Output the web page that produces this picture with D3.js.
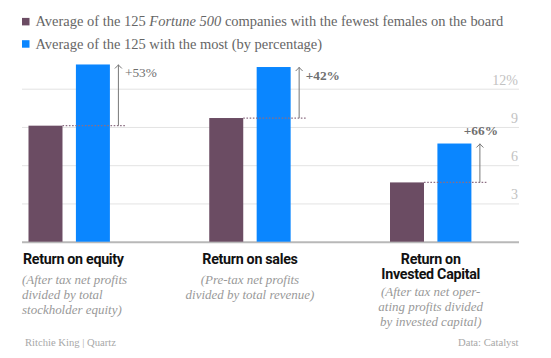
<!DOCTYPE html>
<html>
<head>
<meta charset="utf-8">
<script src="https://cdn.jsdelivr.net/npm/d3@7"></script>
<style>
  html, body { margin: 0; padding: 0; background: #fff; }
  svg { display: block; }
</style>
</head>
<body>
<svg id="chart" width="551" height="358"></svg>
<script>
// ---- data ----
const categories = ["Return on equity", "Return on sales", "Return on Invested Capital"];
const titleLines = [["Return on equity"], ["Return on sales"], ["Return on", "Invested Capital"]];
const noteLines = [
  ["(After tax net profits", "divided by total", "stockholder equity)"],
  ["(Pre-tax net profits", "divided by total revenue)"],
  ["(After tax net oper-", "ating profits divided", "by invested capital)"]
];
const fewestValues = [9.1, 9.7, 4.65];
const mostValues = [13.9, 13.7, 7.7];
const changeLabels = ["+53%", "+42%", "+66%"];
const yTicks = [3, 6, 9, 12];
const legendLabels = ["Average of the 125 |Fortune 500| companies with the fewest females on the board",
                      "Average of the 125 with the most (by percentage)"];
const seriesKeys = ["fewest", "most"];

// ---- layout ----
const colors = { fewest: "#6b4c63", most: "#0a86ff" };
const SERIF = "'Liberation Serif', serif";
const svg = d3.select("#chart");
const left = 22, right = 519;
const y = d3.scaleLinear().domain([0, 12]).range([241.7, 88.7]);
const xGroup = d3.scalePoint().domain(categories).range([69.2, 430.7]);
const xSeries = d3.scaleBand().domain(seriesKeys).range([-40.7, 40.7]).paddingInner(0.283);
const bw = xSeries.bandwidth();

function fit(sel, target, size) {
  const w = sel.node().getComputedTextLength();
  return w > 0 ? size * target / w : size;
}
function fitSize(attrs, str, target) {
  const t = svg.append("text").attr("font-size", 12);
  Object.entries(attrs).forEach(([k, v]) => t.attr(k, v));
  t.text(str);
  const s = fit(t, target, 12);
  t.remove();
  return s;
}

const pctSize = fitSize({ "font-family": SERIF }, "+53%", 32);

// gridlines + y axis
const yAxis = d3.axisRight(y).tickValues(yTicks).tickSize(-(right - left))
  .tickFormat(d => d === 12 ? d + "%" : d);
const ga = svg.append("g").attr("transform", `translate(${right},0)`).call(yAxis);
ga.select(".domain").remove();
ga.selectAll(".tick line").attr("stroke", "#e3e3e3").attr("stroke-width", 1);
ga.selectAll(".tick text")
  .attr("x", -1).attr("dy", "-4.5px").attr("text-anchor", "end")
  .attr("font-family", SERIF).attr("font-size", 14)
  .attr("fill", "#c2c2c2");

// baseline
svg.append("line").attr("x1", left).attr("x2", right)
  .attr("y1", y(0) + 0.5).attr("y2", y(0) + 0.5)
  .attr("stroke", "#b8b8b8").attr("stroke-width", 2);

// bars
const rows = categories.map((c, i) => ({ c, i, fewest: fewestValues[i], most: mostValues[i] }));
const groups = svg.append("g").selectAll("g").data(rows).join("g")
  .attr("transform", d => `translate(${xGroup(d.c)},0)`);
groups.selectAll("rect").data(d => seriesKeys.map(k => ({ k, v: d[k] }))).join("rect")
  .attr("x", d => xSeries(d.k)).attr("width", bw)
  .attr("y", d => y(d.v)).attr("height", d => y(0) - y(d.v))
  .attr("fill", d => colors[d.k]);

// dotted reference lines, arrows, labels
groups.each(function (d, i) {
  const g = d3.select(this);
  const blueRight = xSeries("most") + bw;
  const ax = blueRight + 8.5;
  g.append("line")
    .attr("x1", xSeries("fewest") + bw).attr("x2", blueRight + 16.5)
    .attr("y1", y(d.fewest)).attr("y2", y(d.fewest))
    .attr("stroke", "#8d6f84").attr("stroke-width", 1.3).attr("stroke-dasharray", "1.6,1.6");
  g.append("line")
    .attr("x1", ax).attr("x2", ax).attr("y1", y(d.fewest)).attr("y2", y(d.most))
    .attr("stroke", "#777").attr("stroke-width", 1);
  g.append("path")
    .attr("d", `M${ax - 3.5},${y(d.most) + 4}L${ax},${y(d.most) + 0.5}L${ax + 3.5},${y(d.most) + 4}`)
    .attr("fill", "none").attr("stroke", "#777").attr("stroke-width", 1);
  const last = i === rows.length - 1;
  g.append("text")
    .attr("x", last ? ax + 1 : ax + 6.5)
    .attr("y", last ? y(d.most) - 8.5 : y(d.most) + 12.5)
    .attr("text-anchor", last ? "middle" : "start")
    .attr("font-family", SERIF).attr("font-size", pctSize)
    .attr("font-weight", i === 0 ? "normal" : "bold")
    .attr("fill", "#6f6f6f")
    .text(changeLabels[i]);
});

// category titles and notes
const titleG = svg.append("g");
const titleSize = fitSize({ "font-family": "Roboto, sans-serif", "font-weight": "bold", "letter-spacing": "-0.3px" },
  titleLines[0][0], 100);
const noteSize = fitSize({ "font-family": SERIF, "font-style": "italic" }, noteLines[1][1], 129);
rows.forEach((d, i) => {
  const first = i === 0;
  const cx = first ? left : xGroup(d.c);
  const anchor = first ? "start" : "middle";
  const tl = titleLines[i];
  tl.forEach((line, j) => {
    titleG.append("text").attr("x", cx + (first ? 1 : 0)).attr("y", 264 + j * 14.5)
      .attr("text-anchor", anchor)
      .attr("font-family", "Roboto, sans-serif").attr("font-weight", "bold")
      .attr("font-size", titleSize).attr("letter-spacing", "-0.3px").attr("fill", "#111")
      .text(line);
  });
  const noteStart = 264 + (tl.length - 1) * 14.5 + (tl.length > 1 ? 17.5 : 19.5);
  noteLines[i].forEach((line, j) => {
    titleG.append("text").attr("x", cx).attr("y", noteStart + j * 15.2)
      .attr("text-anchor", anchor)
      .attr("font-family", SERIF).attr("font-style", "italic")
      .attr("font-size", noteSize).attr("fill", "#999")
      .text(line);
  });
});

// legend
const lg = svg.append("g");
const legendY = [21.7, 44];
let legendSize = 13.5;
legendLabels.forEach((lab, i) => {
  lg.append("rect").attr("x", 22).attr("y", legendY[i] - 3.8).attr("width", 7.5).attr("height", 7.5)
    .attr("fill", colors[seriesKeys[i]]);
  const t = lg.append("text").attr("x", 35.5).attr("y", legendY[i] + 4.6)
    .attr("font-family", SERIF).attr("font-size", legendSize).attr("fill", "#666");
  lab.split("|").forEach((part, j) => {
    t.append("tspan").attr("font-style", j % 2 ? "italic" : "normal").text(part);
  });
  if (i === 0) {
    legendSize = fit(t, 468, legendSize);
    t.attr("font-size", legendSize);
  }
});

// footer
const footSize = fitSize({ "font-family": SERIF }, "Ritchie King | Quartz", 91);
svg.append("text").attr("x", 25).attr("y", 346)
  .attr("font-family", SERIF).attr("font-size", footSize).attr("fill", "#a8a8a8")
  .text("Ritchie King | Quartz");
svg.append("text").attr("x", 518.5).attr("y", 346).attr("text-anchor", "end")
  .attr("font-family", SERIF).attr("font-size", footSize).attr("fill", "#a8a8a8")
  .text("Data: Catalyst");
</script>
</body>
</html>
